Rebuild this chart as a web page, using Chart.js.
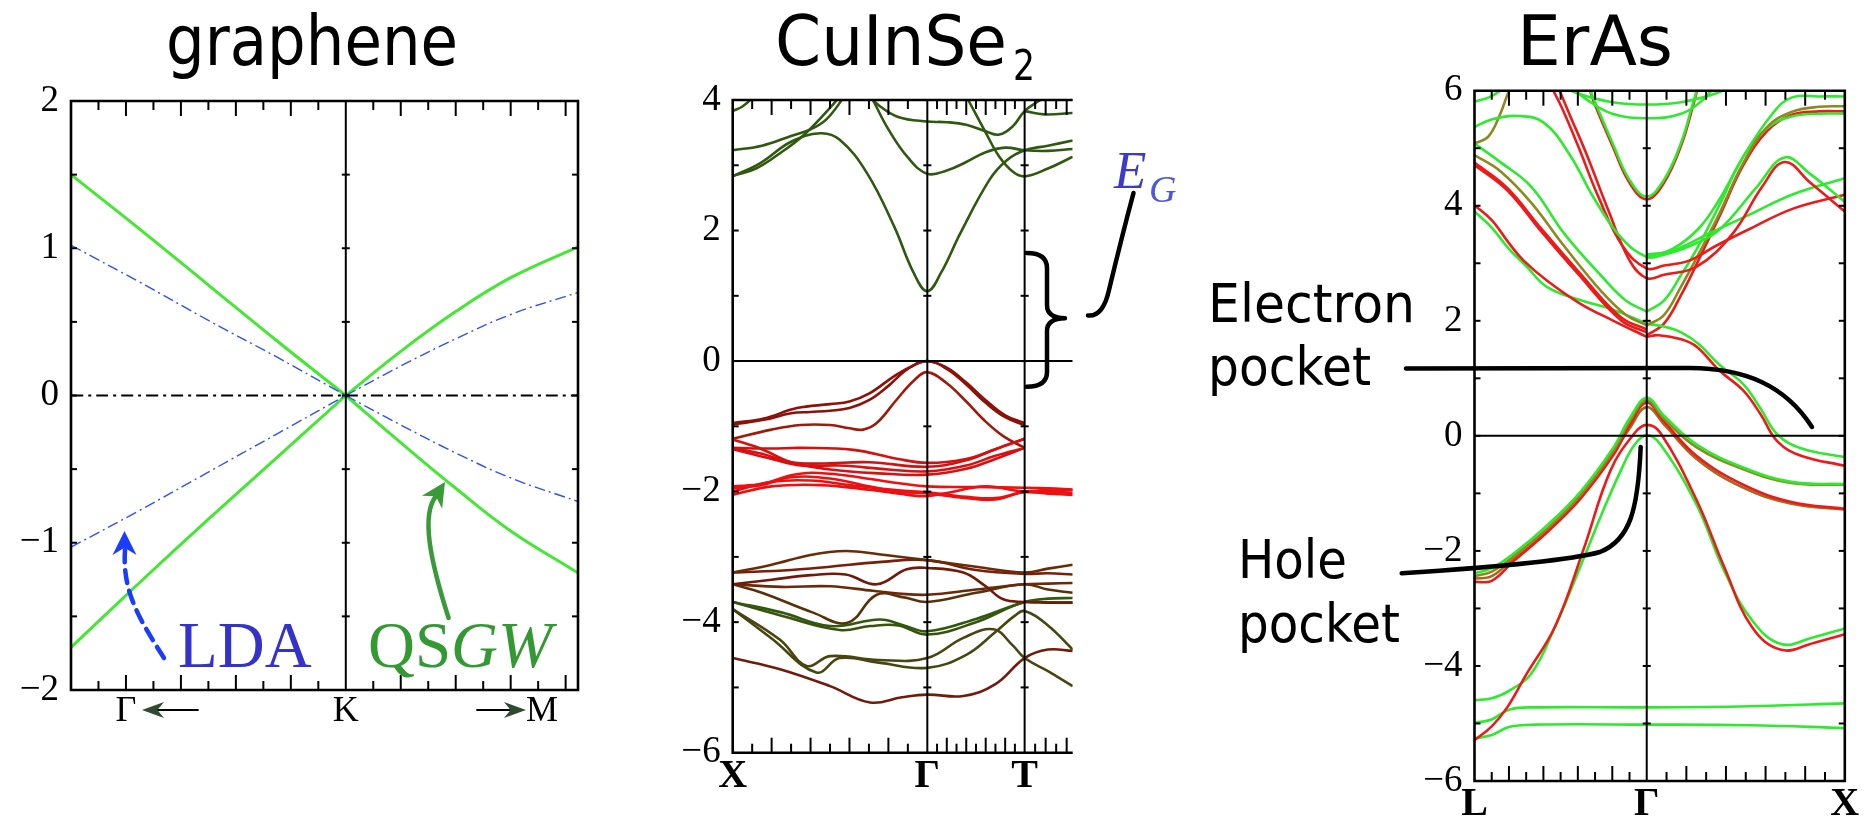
<!DOCTYPE html>
<html>
<head>
<meta charset="utf-8">
<script src="https://cdn.jsdelivr.net/npm/chart.js@4.4.0/dist/chart.umd.min.js"></script>
<style>
  html, body { margin: 0; padding: 0; background: #fff; }
  body { width: 1870px; height: 820px; position: relative; overflow: hidden; }
  canvas { position: absolute; top: 0; }
</style>
</head>
<body>
<canvas id="graphene" width="620" height="820" style="left:0px"></canvas>
<canvas id="cuinse2" width="540" height="820" style="left:640px"></canvas>
<canvas id="eras" width="690" height="820" style="left:1180px"></canvas>

<script>
// ==========================
// GRAPHENE DATA (k: K = 0, Gamma side < 0, M side > 0)
// ==========================

const grKLeft = [-1, -0.75, -0.5, -0.25, 0];
const grKRight = [0, 0.2, 0.4, 0.6, 0.845];

const qsgwLeftUp = [1.5, 1.13, 0.75, 0.37, 0];
const qsgwLeftDown = [-1.71, -1.27, -0.84, -0.42, 0];
const qsgwRightUp = [0, 0.3, 0.57, 0.8, 1.01];
const qsgwRightDown = [0, -0.32, -0.63, -0.92, -1.205];

const ldaLeftUp = [1.02, 0.77, 0.51, 0.26, 0];
const ldaLeftDown = [-1.03, -0.78, -0.52, -0.26, 0];
const ldaRightUp = [0, 0.2, 0.385, 0.55, 0.7];
const ldaRightDown = [0, -0.2, -0.39, -0.56, -0.72];

const grLabelK = [-0.8, 0, 0.714];
const grLabels = ["Γ", "K", "M"];
const grTickLong = [-0.8, -0.6, -0.4, -0.2, 0.2, 0.4, 0.6, 0.8];
const grTickShort = [-0.9, -0.7, -0.5, -0.3, -0.1, 0.1, 0.3, 0.5, 0.7];
const grETicks = [-1.5, -1, -0.5, 0, 0.5, 1, 1.5];

// ==========================
// CuInSe2 DATA (X = 0, Gamma = 1, T = 1.5)
// ==========================

const cisCondK = [
    [0, 0.14, 0.3, 0.45, 0.55, 0.69, 0.83, 0.93, 1.0, 1.07, 1.17, 1.32, 1.41, 1.5, 1.62, 1.747],
    [0, 0.12, 0.25, 0.36, 0.46, 0.55, 0.62],
    [0, 0.15, 0.3, 0.4, 0.48, 0.56, 0.62],
    [0, 0.05, 0.1, 0.15],
    [0.69, 0.72, 0.8, 0.9, 1.0, 1.1, 1.2, 1.3, 1.4, 1.5, 1.62, 1.747],
    [0.69, 0.75, 0.85, 1.0, 1.1, 1.2, 1.3, 1.37, 1.44, 1.5, 1.58, 1.65],
    [1.19, 1.21, 1.3, 1.37, 1.44, 1.5, 1.62, 1.747],
    [1.5, 1.6, 1.747]
];
const cisCondE = [
    [2.83, 3.03, 3.36, 3.49, 3.39, 2.88, 2.06, 1.35, 1.07, 1.35, 1.96, 2.78, 3.08, 3.23, 3.3, 3.38],
    [2.84, 2.95, 3.2, 3.45, 3.75, 4.05, 4.3],
    [3.23, 3.3, 3.45, 3.55, 3.7, 4.0, 4.3],
    [3.83, 3.9, 4.03, 4.2],
    [4.15, 4.0, 3.55, 3.12, 2.87, 2.92, 3.05, 3.2, 3.27, 3.23, 3.22, 3.25],
    [4.1, 3.92, 3.74, 3.67, 3.66, 3.62, 3.52, 3.47, 3.6, 3.83, 4.0, 4.15],
    [4.1, 4.0, 3.5, 3.13, 2.9, 2.83, 2.95, 3.13],
    [3.83, 3.78, 3.8]
];

const cisValK = [
    [0, 0.16, 0.33, 0.5, 0.6, 0.7, 0.84, 0.94, 1.0, 1.1, 1.2, 1.3, 1.4, 1.5],
    [0, 0.16, 0.3, 0.4, 0.5, 0.6, 0.7, 0.8, 0.9, 1.0, 1.1, 1.2, 1.3, 1.4, 1.5],
    [0, 0.2, 0.35, 0.5, 0.6, 0.67, 0.74, 0.84, 0.93, 1.0, 1.1, 1.2, 1.29, 1.39, 1.5]
];
const cisValE = [
    [-0.95, -0.88, -0.72, -0.66, -0.62, -0.5, -0.21, -0.05, 0, -0.1, -0.33, -0.6, -0.83, -0.95],
    [-0.97, -0.9, -0.8, -0.78, -0.76, -0.72, -0.6, -0.38, -0.12, 0, -0.12, -0.36, -0.64, -0.86, -0.98],
    [-1.19, -1.05, -0.98, -0.98, -1.03, -1.05, -0.95, -0.6, -0.3, -0.17, -0.34, -0.62, -0.9, -1.15, -1.33]
];

const cisMidK = [
    [0, 0.2, 0.35, 0.62, 0.85, 1.0, 1.2, 1.35, 1.5],
    [0, 0.15, 0.3, 0.45, 0.7, 1.0, 1.2, 1.35, 1.5],
    [0, 0.2, 0.35, 0.55, 0.8, 1.0, 1.2, 1.35, 1.5],
    [0, 0.15, 0.3, 0.5, 0.75, 1.0, 1.2, 1.35, 1.5],
    [0, 0.15, 0.3, 0.41, 0.6, 0.8, 1.0, 1.25, 1.5, 1.62, 1.747],
    [0, 0.2, 0.4, 0.6, 0.85, 1.0, 1.2, 1.35, 1.5, 1.62, 1.747],
    [0, 0.2, 0.45, 0.7, 0.9, 1.0, 1.1, 1.3, 1.5, 1.62, 1.747],
    [0, 0.15, 0.3, 0.5, 0.7, 0.85, 1.0, 1.2, 1.35, 1.5, 1.62, 1.747]
];
const cisMidE = [
    [-1.33, -1.34, -1.33, -1.36, -1.5, -1.56, -1.5, -1.35, -1.19],
    [-1.33, -1.42, -1.55, -1.57, -1.55, -1.62, -1.52, -1.35, -1.19],
    [-1.35, -1.5, -1.6, -1.6, -1.66, -1.69, -1.6, -1.45, -1.33],
    [-1.2, -1.35, -1.55, -1.66, -1.72, -1.74, -1.65, -1.5, -1.33],
    [-1.92, -1.88, -1.75, -1.71, -1.76, -1.85, -1.92, -1.93, -1.94, -1.95, -1.97],
    [-2.0, -1.85, -1.83, -1.9, -1.98, -2.01, -2.08, -2.1, -2.01, -2.03, -2.05],
    [-2.05, -1.92, -1.9, -1.97, -2.05, -2.07, -2.02, -1.92, -2.0, -1.97, -1.98],
    [-1.95, -1.9, -1.78, -1.8, -1.92, -2.0, -2.03, -2.1, -2.12, -2.0, -2.0, -2.02]
];

const cisLowK = [
    [0, 0.2, 0.4, 0.58, 0.75, 1.0, 1.25, 1.5, 1.62, 1.747],
    [0, 0.3, 0.5, 0.75, 1.0, 1.25, 1.5, 1.62, 1.747],
    [0, 0.2, 0.4, 0.58, 0.74, 0.894, 1.0, 1.185, 1.3, 1.39, 1.5, 1.62, 1.747],
    [0, 0.25, 0.5, 0.72, 0.85, 1.0, 1.25, 1.5, 1.62, 1.747],
    [0, 0.15, 0.41, 0.59, 0.74, 0.88, 1.0, 1.25, 1.5, 1.62, 1.747],
    [0, 0.25, 0.5, 0.757, 0.88, 1.0, 1.25, 1.5, 1.62, 1.747],
    [0, 0.25, 0.55, 0.706, 0.85, 1.0, 1.25, 1.5, 1.62, 1.747],
    [0, 0.243, 0.38, 0.5, 0.75, 1.0, 1.185, 1.34, 1.44, 1.5, 1.62, 1.747],
    [0, 0.2, 0.43, 0.55, 0.75, 1.0, 1.2, 1.35, 1.45, 1.5, 1.62, 1.747],
    [0, 0.243, 0.5, 0.706, 0.87, 1.0, 1.185, 1.35, 1.5, 1.62, 1.747]
];
const cisLowE = [
    [-3.24, -3.12, -2.97, -2.91, -2.96, -3.05, -3.15, -3.24, -3.18, -3.12],
    [-3.24, -3.2, -3.15, -3.08, -3.05, -3.2, -3.26, -3.25, -3.27],
    [-3.42, -3.35, -3.28, -3.27, -3.42, -3.19, -3.17, -3.24, -3.45, -3.65, -3.69, -3.7, -3.7],
    [-3.42, -3.46, -3.45, -3.52, -3.56, -3.58, -3.5, -3.42, -3.41, -3.4],
    [-3.42, -3.55, -3.85, -4.01, -3.58, -3.62, -3.69, -3.55, -3.42, -3.5, -3.55],
    [-3.69, -3.85, -4.06, -3.96, -4.05, -4.14, -3.95, -3.69, -3.64, -3.63],
    [-3.69, -3.9, -4.12, -4.06, -4.05, -4.19, -4.0, -3.69, -3.7, -3.7],
    [-3.8, -4.27, -4.67, -4.52, -4.58, -4.55, -4.24, -4.11, -4.36, -4.55, -4.75, -4.98],
    [-3.8, -4.25, -4.77, -4.55, -4.62, -4.7, -4.5, -4.15, -3.9, -3.83, -4.05, -4.42],
    [-4.55, -4.72, -4.98, -5.23, -5.15, -5.11, -5.13, -4.95, -4.55, -4.42, -4.44]
];

const cisSymK = [1, 1.5];
const cisLabelK = [0, 1, 1.5];
const cisLabels = ["X", "Γ", "T"];
const cisTickLong = [0.2, 0.4, 0.6, 0.8, 1.1, 1.2, 1.3, 1.4, 1.608, 1.716];
const cisTickShort = [0.1, 0.3, 0.5, 0.7, 0.9, 1.05, 1.15, 1.25, 1.35, 1.45, 1.554, 1.662];
const cisETicks = [-5, -4, -3, -2, -1, 0, 1, 2, 3];

// ==========================
// ErAs DATA (L = 0, Gamma = 1, X = 2.15)
// ==========================

const erasCondK = [
    [0.5, 0.6, 0.8, 1, 1.2, 1.4, 1.5],
    [0.55, 0.65, 0.8, 1, 1.2, 1.33, 1.4],
    [0, 0.1, 0.25, 0.4, 0.55, 0.7, 0.85, 1.0, 1.1, 1.25, 1.42, 1.64, 1.8, 1.95, 2.15],
    [0.44, 0.5, 0.6, 0.72, 0.86, 1.0, 1.1, 1.25, 1.4, 1.6, 1.85, 2.15],
    [0.48, 0.55, 0.65, 0.78, 0.9, 1.0, 1.1, 1.29, 1.5, 1.67, 1.8, 1.95, 2.15],
    [1.0, 1.15, 1.35, 1.6, 1.85, 2.15],
    [0.66, 0.7, 0.8, 0.9, 1.0, 1.1, 1.2, 1.27, 1.3],
    [0.66, 0.7, 0.8, 0.9, 1.0, 1.1, 1.2, 1.27, 1.3],
    [1.0, 1.1, 1.2, 1.3, 1.42, 1.56, 1.7, 1.84, 2.0, 2.15],
    [1.0, 1.07, 1.2, 1.29, 1.42, 1.56, 1.66, 1.76, 1.9, 2.15],
    [1.0, 1.1, 1.2, 1.3, 1.42, 1.56, 1.66, 1.76, 1.9, 2.15],
    [1.0, 1.1, 1.2, 1.3, 1.42, 1.56, 1.7, 1.84, 2.0, 2.15],
    [1.0, 1.15, 1.3, 1.42, 1.56, 1.73, 1.84, 2.0, 2.15],
    [1.0, 1.1, 1.2, 1.3, 1.42, 1.56, 1.7, 1.84, 2.0, 2.15],
    [0, 0.14, 0.33, 0.52, 0.74, 0.88, 1.0],
    [0, 0.15, 0.33, 0.52, 0.74, 0.88, 1.0],
    [0, 0.19, 0.38, 0.6, 0.85, 1.0],
    [0, 0.19, 0.38, 0.6, 0.85, 1.0],
    [0, 0.1, 0.2, 0.284, 0.42, 0.613, 0.807, 1.0],
    [0, 0.1, 0.2, 0.3, 0.42, 0.613, 0.807, 1.0],
    [0, 0.08, 0.15, 0.2],
    [0, 0.08, 0.15, 0.2, 0.23]
];
const erasCondE = [
    [6.1, 5.95, 5.8, 5.76, 5.8, 5.95, 6.1],
    [6.1, 5.85, 5.6, 5.52, 5.6, 5.85, 6.1],
    [5.37, 5.5, 5.56, 5.45, 4.9, 4.1, 3.45, 3.11, 3.15, 3.3, 3.58, 4.33, 4.84, 4.55, 4.07],
    [6.1, 5.75, 5.05, 4.15, 3.3, 2.91, 2.96, 3.05, 3.3, 3.6, 3.95, 4.19],
    [6.1, 5.6, 4.9, 3.9, 3.05, 2.74, 2.8, 2.94, 3.52, 4.33, 4.76, 4.4, 3.9],
    [3.15, 3.22, 3.5, 3.85, 4.2, 4.48],
    [6.1, 5.8, 5.1, 4.45, 4.16, 4.45, 5.1, 5.8, 6.1],
    [6.1, 5.75, 5.05, 4.4, 4.11, 4.4, 5.05, 5.75, 6.1],
    [1.92, 2.1, 2.6, 3.15, 3.85, 4.74, 5.37, 5.63, 5.72, 5.73],
    [1.72, 1.75, 1.68, 1.55, 1.14, 0.79, 0.38, -0.1, -0.35, -0.52],
    [1.95, 1.9, 1.8, 1.6, 1.24, 0.9, 0.48, 0.02, -0.22, -0.37],
    [2.16, 2.35, 2.8, 3.3, 4.0, 4.85, 5.35, 5.55, 5.6, 5.6],
    [3.11, 3.25, 3.6, 4.1, 4.85, 5.6, 5.88, 5.9, 5.9],
    [1.75, 1.95, 2.45, 3.05, 3.8, 4.7, 5.3, 5.58, 5.64, 5.64],
    [5.08, 4.78, 4.33, 3.52, 2.77, 2.35, 2.16],
    [4.88, 4.6, 4.05, 3.3, 2.5, 2.1, 1.92],
    [4.71, 4.27, 3.58, 2.82, 2.01, 1.8],
    [4.75, 4.31, 3.63, 2.87, 2.06, 1.85],
    [4.01, 3.75, 3.35, 3.05, 2.7, 2.3, 2.0, 1.72],
    [3.9, 3.62, 3.25, 2.95, 2.59, 2.36, 2.19, 1.95],
    [5.81, 5.88, 6.0, 6.15],
    [5.08, 5.2, 5.6, 6.0, 6.15]
];

const erasValK = [
    [0, 0.1, 0.226, 0.42, 0.613, 0.807, 0.9, 1.0, 1.1, 1.29, 1.56, 1.84, 2.15],
    [0, 0.1, 0.226, 0.42, 0.613, 0.807, 0.9, 1.0, 1.1, 1.29, 1.56, 1.84, 2.15],
    [0, 0.1, 0.226, 0.42, 0.613, 0.807, 0.9, 1.0, 1.1, 1.29, 1.56, 1.84, 2.15],
    [0, 0.1, 0.226, 0.42, 0.613, 0.807, 0.9, 1.0, 1.1, 1.29, 1.56, 1.84, 2.15],
    [0, 0.1, 0.19, 0.3, 0.47, 0.63, 0.79, 0.93, 1.0, 1.08, 1.29, 1.45, 1.61, 1.78, 1.97, 2.15],
    [0, 0.1, 0.19, 0.33, 0.47, 0.63, 0.74, 0.85, 0.93, 1.0, 1.08, 1.29, 1.45, 1.61, 1.78, 1.97, 2.15],
    [0, 0.1, 0.2, 0.35, 1.0, 1.6, 2.15],
    [0, 0.1, 0.2, 0.35, 1.0, 1.6, 2.15]
];
const erasValE = [
    [-2.39, -2.3, -2.05, -1.56, -0.98, -0.2, 0.3, 0.66, 0.35, -0.15, -0.55, -0.8, -0.84],
    [-2.44, -2.36, -2.1, -1.62, -1.04, -0.26, 0.25, 0.62, 0.3, -0.2, -0.58, -0.82, -0.85],
    [-2.54, -2.52, -2.18, -1.68, -1.1, -0.33, 0.18, 0.58, 0.25, -0.35, -0.85, -1.15, -1.27],
    [-2.48, -2.44, -2.13, -1.65, -1.07, -0.3, 0.13, 0.5, 0.2, -0.4, -0.9, -1.18, -1.28],
    [-5.29, -5.05, -4.72, -4.15, -3.3, -2.0, -0.6, 0.05, 0.19, 0.05, -1.12, -2.28, -3.32, -3.72, -3.6, -3.45],
    [-4.6, -4.56, -4.45, -4.13, -3.3, -2.16, -1.35, -0.6, -0.15, 0.01, -0.15, -1.2, -2.35, -3.2, -3.62, -3.5, -3.35],
    [-4.99, -4.93, -4.76, -4.72, -4.72, -4.7, -4.65],
    [-5.26, -5.2, -5.06, -5.02, -5.02, -5.03, -5.08]
];

const erasSymK = [1];
const erasLabelK = [0, 1, 2.15];
const erasLabels = ["L", "Γ", "X"];
const erasTickLong = [0.2, 0.4, 0.6, 0.8, 1.23, 1.46, 1.69, 1.92];
const erasTickShort = [0.1, 0.3, 0.5, 0.7, 0.9, 1.115, 1.345, 1.575, 1.805, 2.035];
const erasETicks = [-5, -4, -3, -2, -1, 0, 1, 2, 3, 4, 5];

// ==========================
// STYLES
// ==========================

const GREEN = "#2eea2e", RED = "#ee1a1a", OLIVE = "#8c8a1e", BROWN = "#a8661e";
const cisCondColors = Array(cisCondK.length).fill("#2d5a0e");
const cisValColors = ["#8c1208", "#8c1208", "#a01a0c"];
const cisMidColors = ["#d41010", "#d41010", "#d81010", "#d81010", "#ee1010", "#ee1010", "#ee1010", "#ee1010"];
const cisLowColors = ["#6b2a08", "#7a1e0a", "#701a0a", "#6a2a0a", "#5a3008",
                      "#2f5a0c", "#3a520e", "#4a4410", "#44480e", "#701c0a"];
const erasCondColors = [GREEN, GREEN, GREEN, RED, RED, GREEN, GREEN, RED, OLIVE, RED, GREEN,
                        GREEN, GREEN, RED, GREEN, OLIVE, RED, RED, RED, GREEN, GREEN, OLIVE];
const erasValColors = [GREEN, OLIVE, RED, BROWN, RED, GREEN, GREEN, GREEN];

const SERIF = "'Liberation Serif', 'Times New Roman', serif";
const COMIC = "'Comic Sans MS', 'DejaVu Sans', sans-serif";

// ==========================
// HELPERS
// ==========================

function band(k, e, color, width, dash) {
    return {
        data: k.map((v, i) => ({ x: v, y: e[i] })),
        borderColor: color,
        borderWidth: width,
        borderDash: dash || [],
        pointRadius: 0,
        tension: 0.4,
        fill: false
    };
}

function bands(kList, eList, colors, width) {
    return kList.map((k, i) => band(k, eList[i], colors[i], width));
}

function minus(v) {
    return v < 0 ? "\u2212" + Math.abs(v) : String(v);
}

function seg(ctx, x1, y1, x2, y2) {
    ctx.beginPath();
    ctx.moveTo(x1, y1);
    ctx.lineTo(x2, y2);
    ctx.stroke();
}

// text stretched to a given width, drawn from its left edge
function fitText(ctx, text, left, base, size, width, font, color) {
    ctx.save();
    ctx.font = size + "px " + font;
    ctx.fillStyle = color || "#000";
    ctx.textBaseline = "alphabetic";
    ctx.textAlign = "left";
    const w = ctx.measureText(text).width;
    ctx.translate(left, base);
    ctx.scale(width / w, 1);
    ctx.fillText(text, 0, 0);
    ctx.restore();
}

function arrowHead(ctx, tx, ty, angle, len, half, color) {
    ctx.save();
    ctx.translate(tx, ty);
    ctx.rotate(angle);
    ctx.fillStyle = color;
    ctx.beginPath();
    ctx.moveTo(0, 0);
    ctx.lineTo(-len, -half);
    ctx.lineTo(-len * 0.7, 0);
    ctx.lineTo(-len, half);
    ctx.closePath();
    ctx.fill();
    ctx.restore();
}

function decoPlugin(opt) {
    return {
        id: "deco",
        afterDatasetsDraw(chart) {
            const { ctx, chartArea: a, scales: { x, y } } = chart;
            ctx.save();
            ctx.strokeStyle = "#000";

            ctx.lineWidth = 2;
            opt.symK.forEach(k => {
                const p = x.getPixelForValue(k);
                seg(ctx, p, a.top, p, a.bottom);
            });

            const tick = (k, len) => {
                const p = x.getPixelForValue(k);
                seg(ctx, p, a.top, p, a.top + len);
                seg(ctx, p, a.bottom, p, a.bottom - len);
            };
            opt.tickLong.forEach(k => tick(k, 15));
            opt.tickShort.forEach(k => tick(k, 9));

            opt.eTicks.forEach(e => {
                const p = y.getPixelForValue(e);
                seg(ctx, a.left, p, a.left + 6, p);
                if (opt.rightBorder) seg(ctx, a.right - 6, p, a.right, p);
                opt.symK.forEach(k => {
                    const q = x.getPixelForValue(k);
                    seg(ctx, q - 4, p, q + 4, p);
                });
            });

            ctx.lineWidth = 2.6;
            ctx.beginPath();
            if (opt.rightBorder) {
                ctx.rect(a.left, a.top, a.right - a.left, a.bottom - a.top);
            } else {
                ctx.moveTo(a.right, a.top);
                ctx.lineTo(a.left, a.top);
                ctx.lineTo(a.left, a.bottom);
                ctx.lineTo(a.right, a.bottom);
            }
            ctx.stroke();
            ctx.restore();
        },
        afterDraw(chart) {
            const ctx = chart.ctx;
            ctx.save();
            ctx.translate(-opt.offsetX, 0);
            opt.annotate(ctx, chart);
            ctx.restore();
        }
    };
}

function makeChart(id, opt) {
    return new Chart(document.getElementById(id), {
        type: "line",
        data: { datasets: opt.datasets },
        options: {
            responsive: false,
            animation: false,
            events: [],
            layout: { padding: opt.padding },
            plugins: {
                legend: { display: false },
                tooltip: { enabled: false }
            },
            scales: {
                x: {
                    type: "linear",
                    min: opt.kMin,
                    max: opt.kMax,
                    grid: { display: false, drawTicks: false },
                    border: { display: false },
                    afterFit: s => { s.height = opt.xHeight; },
                    afterBuildTicks: s => { s.ticks = opt.labelK.map(v => ({ value: v })); },
                    ticks: {
                        autoSkip: false,
                        maxRotation: 0,
                        padding: opt.xPad,
                        color: "#000",
                        font: opt.xFont,
                        callback: (v, i) => opt.labels[i]
                    }
                },
                y: {
                    type: "linear",
                    min: opt.eMin,
                    max: opt.eMax,
                    grid: { display: false, drawTicks: false },
                    border: { display: false },
                    afterFit: s => { s.width = opt.yWidth; },
                    ticks: {
                        stepSize: opt.eStep,
                        padding: 12,
                        color: "#000",
                        font: { family: SERIF, size: 37 },
                        callback: v => minus(v)
                    }
                }
            }
        },
        plugins: [decoPlugin(opt)]
    });
}

// ==========================
// GRAPHENE
// ==========================

makeChart("graphene", {
    offsetX: 0,
    padding: { left: 0, right: 42, top: 101, bottom: 70 },
    yWidth: 71,
    xHeight: 60,
    xPad: 0,
    kMin: -1, kMax: 0.845,
    eMin: -2, eMax: 2, eStep: 1,
    labelK: grLabelK, labels: grLabels,
    xFont: { family: SERIF, size: 36 },
    symK: [0],
    tickLong: grTickLong, tickShort: grTickShort,
    eTicks: grETicks,
    rightBorder: true,
    datasets: [
        band([-1, 0.845], [0, 0], "#000", 2.2, [12, 5, 3, 5]),
        band(grKLeft, ldaLeftUp, "#3050ff", 1.4, [11, 4, 2, 4]),
        band(grKLeft, ldaLeftDown, "#3050ff", 1.4, [11, 4, 2, 4]),
        band(grKRight, ldaRightUp, "#3050ff", 1.4, [11, 4, 2, 4]),
        band(grKRight, ldaRightDown, "#3050ff", 1.4, [11, 4, 2, 4]),
        band(grKLeft, qsgwLeftUp, "#44e833", 3),
        band(grKLeft, qsgwLeftDown, "#44e833", 3),
        band(grKRight, qsgwRightUp, "#44e833", 3),
        band(grKRight, qsgwRightDown, "#44e833", 3)
    ],
    annotate(ctx) {
        fitText(ctx, "graphene", 166, 65, 70, 292, COMIC);

        // LDA arrow (dashed, blue)
        ctx.lineCap = "round";
        ctx.strokeStyle = "#1a3cff";
        ctx.lineWidth = 4.5;
        ctx.setLineDash([13, 8]);
        ctx.beginPath();
        ctx.moveTo(164, 658);
        ctx.bezierCurveTo(140, 620, 122, 592, 125, 550);
        ctx.stroke();
        ctx.setLineDash([]);
        arrowHead(ctx, 124.5, 531, -Math.PI / 2, 24, 12, "#1a3cff");

        // QSGW arrow (green)
        ctx.strokeStyle = "#3a9a3a";
        ctx.beginPath();
        ctx.moveTo(448.6, 618);
        ctx.bezierCurveTo(430, 560, 421, 515, 436, 496);
        ctx.stroke();
        arrowHead(ctx, 445, 482, Math.atan2(-14, 9), 24, 12, "#3a9a3a");

        ctx.font = "65px " + SERIF;
        ctx.textBaseline = "alphabetic";
        ctx.fillStyle = "#3333cc";
        ctx.fillText("LDA", 178, 667);
        ctx.fillStyle = "#339933";
        ctx.fillText("QS", 368, 667);
        const qs = ctx.measureText("QS").width;
        ctx.font = "italic 65px " + SERIF;
        ctx.fillText("GW", 368 + qs, 667);

        // direction arrows next to Gamma and M
        ctx.strokeStyle = "#000";
        ctx.lineWidth = 1.8;
        seg(ctx, 155, 710, 198, 710);
        arrowHead(ctx, 142, 710, Math.PI, 22, 8, "#2f4a2f");
        seg(ctx, 477, 710, 510, 710);
        arrowHead(ctx, 526, 710, 0, 22, 8, "#2f4a2f");
    }
});

// ==========================
// CuInSe2
// ==========================

makeChart("cuinse2", {
    offsetX: 640,
    padding: { left: 0, right: 107.3, top: 100, bottom: 17.3 },
    yWidth: 92.7,
    xHeight: 50,
    xPad: 0,
    kMin: 0, kMax: 1.747,
    eMin: -6, eMax: 4, eStep: 2,
    labelK: cisLabelK, labels: cisLabels,
    xFont: { family: SERIF, size: 40, weight: "bold" },
    symK: cisSymK,
    tickLong: cisTickLong, tickShort: cisTickShort,
    eTicks: cisETicks,
    rightBorder: false,
    datasets: [
        band([0, 1.747], [0, 0], "#000", 2),
        ...bands(cisLowK, cisLowE, cisLowColors, 2.6),
        ...bands(cisMidK, cisMidE, cisMidColors, 2.6),
        ...bands(cisValK, cisValE, cisValColors, 2.6),
        ...bands(cisCondK, cisCondE, cisCondColors, 2.6)
    ],
    annotate(ctx) {
        fitText(ctx, "CuInSe", 775, 65, 70, 232, COMIC);
        fitText(ctx, "2", 1013, 80, 42, 22, COMIC);

        // band-gap brace
        ctx.strokeStyle = "#000";
        ctx.lineWidth = 4.5;
        ctx.lineCap = "round";
        ctx.lineJoin = "round";
        ctx.beginPath();
        ctx.moveTo(1026.7, 253);
        ctx.quadraticCurveTo(1047, 253, 1047, 268);
        ctx.lineTo(1047, 305);
        ctx.quadraticCurveTo(1047, 318, 1065, 318.3);
        ctx.quadraticCurveTo(1047, 318.6, 1047, 331);
        ctx.lineTo(1047, 372);
        ctx.quadraticCurveTo(1047, 386.7, 1026.7, 386.7);
        ctx.stroke();

        ctx.beginPath();
        ctx.moveTo(1088, 315.5);
        ctx.quadraticCurveTo(1103, 317, 1109, 290);
        ctx.quadraticCurveTo(1122, 236, 1133.5, 193);
        ctx.stroke();

        ctx.textBaseline = "alphabetic";
        ctx.fillStyle = "#3a3acc";
        ctx.font = "italic 53px " + SERIF;
        ctx.fillText("E", 1114, 188);
        ctx.fillStyle = "#4a5ad8";
        ctx.font = "italic 38px " + SERIF;
        ctx.fillText("G", 1149, 201.7);
    }
});

// ==========================
// ErAs
// ==========================

makeChart("eras", {
    offsetX: 1180,
    padding: { left: 200, right: 25.2, top: 90.7, bottom: 0 },
    yWidth: 94.5,
    xHeight: 39,
    xPad: 0,
    kMin: 0, kMax: 2.15,
    eMin: -6, eMax: 6, eStep: 2,
    labelK: erasLabelK, labels: erasLabels,
    xFont: { family: SERIF, size: 40, weight: "bold" },
    symK: erasSymK,
    tickLong: erasTickLong, tickShort: erasTickShort,
    eTicks: erasETicks,
    rightBorder: true,
    datasets: [
        band([0, 2.15], [0, 0], "#000", 2),
        ...bands(erasValK, erasValE, erasValColors, 2.6),
        ...bands(erasCondK, erasCondE, erasCondColors, 2.6)
    ],
    annotate(ctx) {
        fitText(ctx, "ErAs", 1517, 65, 69, 156, COMIC);

        fitText(ctx, "Electron", 1208, 322, 54, 207, COMIC);
        fitText(ctx, "pocket", 1208, 385, 54, 163, COMIC);
        fitText(ctx, "Hole", 1238, 578, 54, 109, COMIC);
        fitText(ctx, "pocket", 1238, 642, 54, 162, COMIC);

        ctx.strokeStyle = "#000";
        ctx.lineWidth = 4.5;
        ctx.lineCap = "round";
        ctx.beginPath();
        ctx.moveTo(1406, 368.5);
        ctx.lineTo(1690, 368);
        ctx.bezierCurveTo(1745, 368.5, 1785, 385, 1812, 427);
        ctx.stroke();

        ctx.beginPath();
        ctx.moveTo(1401.7, 573.3);
        ctx.quadraticCurveTo(1560, 563, 1600, 552);
        ctx.bezierCurveTo(1630, 540, 1638, 510, 1640.7, 447);
        ctx.stroke();
    }
});
</script>
</body>
</html>
